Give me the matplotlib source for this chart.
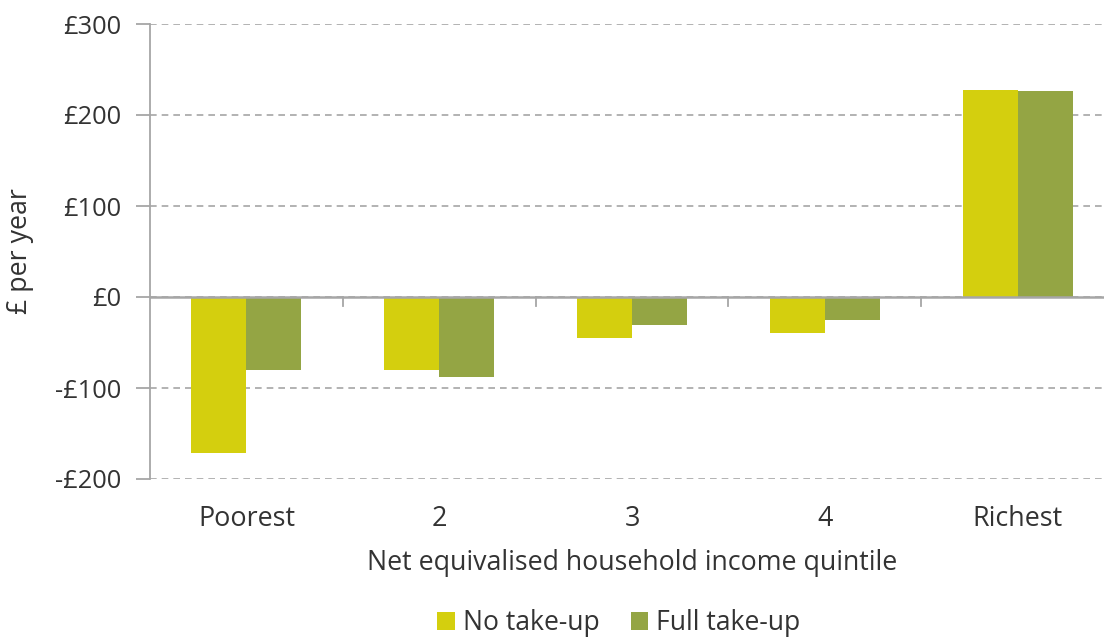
import numpy as np
import matplotlib.pyplot as plt

plt.rcParams['font.family'] = ['Open Sans', 'DejaVu Sans']

# data
quintiles = ['Poorest', '2', '3', '4', 'Richest']
no_takeup = [-171, -80, -45, -40, 227]
full_takeup = [-80, -88, -31, -25, 226]
yticks = [-200, -100, 0, 100, 200, 300]
ytick_labels = ['-£200', '-£100', '£0', '£100', '£200', '£300']

col_no = '#D4CF0E'
col_full = '#94A544'
txt = '#333333'
axc = '#A6A6A6'

fig = plt.figure(figsize=(11.04, 6.37), dpi=100)
ax = fig.add_axes([150 / 1104, 1 - 479 / 637, (1114 - 150) / 1104, (479 - 24) / 637])

x = np.arange(len(quintiles))
w = 0.285
ax.bar(x - w / 2, no_takeup, w, color=col_no, label='No take-up', zorder=3)
ax.bar(x + w / 2, full_takeup, w, color=col_full, label='Full take-up', zorder=3)

ax.set_xlim(-0.5, 4.5)
ax.set_ylim(-200, 300)
ax.set_yticks(yticks)
ax.set_yticklabels(ytick_labels)
ax.yaxis.grid(True, linestyle=(0, (4, 3)), color=axc, linewidth=1.2, zorder=0)

for s in ['top', 'right', 'bottom']:
    ax.spines[s].set_visible(False)
ax.spines['left'].set_color(axc)
ax.spines['left'].set_linewidth(1.3)
ax.axhline(0, color=axc, linewidth=1.8, zorder=4)

# tick marks between categories on the zero line
for b in np.arange(0.5, 4.5, 1.0):
    ax.plot([b, b], [0, -9.5], color=axc, linewidth=1.3, zorder=4, clip_on=False)

ax.set_xticks(x)
ax.set_xticklabels(quintiles)
ax.tick_params(axis='x', length=0, pad=19, labelsize=19.4, labelcolor=txt)
ax.tick_params(axis='y', length=10, width=1.3, color=axc, pad=10.5, labelsize=18.3, labelcolor=txt)

ax.set_xlabel('Net equivalised household income quintile', fontsize=19.3, color=txt, labelpad=11)
fig.text(20 / 1104, 1 - 251 / 637, '£ per year', rotation=90, fontsize=19.3, color=txt,
         ha='center', va='center')

fig.legend(loc='center', bbox_to_anchor=(619 / 1104, 1 - 623 / 637), ncol=2, frameon=False,
           fontsize=19.1, labelcolor=txt, handlelength=0.65, handleheight=0.65,
           handletextpad=0.3, columnspacing=1.2)

plt.savefig('out.png', dpi=100)
